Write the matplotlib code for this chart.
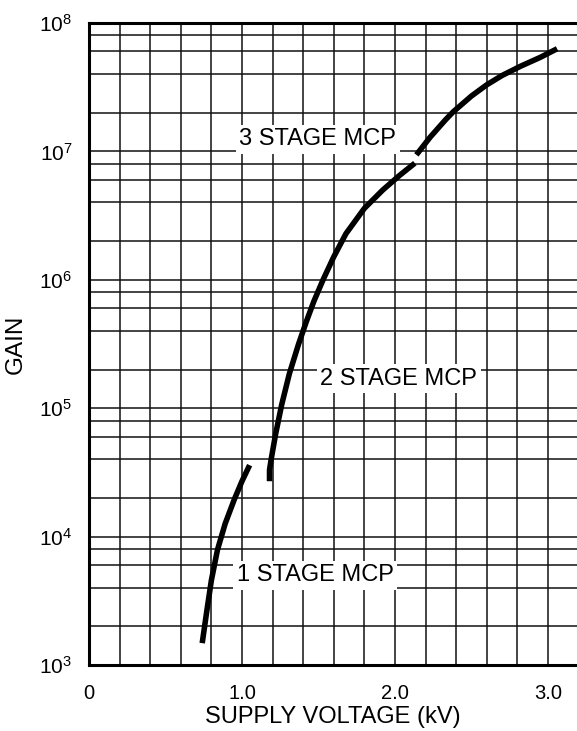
import math
import matplotlib
matplotlib.use("Agg")
import matplotlib.pyplot as plt
from matplotlib.ticker import FixedLocator, MultipleLocator, LogLocator, FuncFormatter, NullFormatter

plt.rcParams['font.family'] = ['Liberation Sans', 'DejaVu Sans']
plt.rcParams['mathtext.fontset'] = 'custom'
plt.rcParams['mathtext.rm'] = 'Liberation Sans'

# gain curves, supply voltage in kV
volts_1stage = [0.74, 0.77, 0.80, 0.84, 0.89, 0.95, 1.00, 1.05]
gain_1stage = [1.48e3, 2.63e3, 4.57e3, 7.9e3, 1.26e4, 1.95e4, 2.7e4, 3.6e4]

volts_2stage = [1.18, 1.18, 1.19, 1.22, 1.26, 1.31, 1.37, 1.42, 1.47, 1.53,
                1.60, 1.68, 1.80, 1.92, 2.03, 2.13]
gain_2stage = [2.7e4, 3.3e4, 3.95e4, 6.3e4, 1.07e5, 1.86e5, 3.16e5, 4.7e5, 6.8e5, 1.0e6,
               1.51e6, 2.29e6, 3.6e6, 5.0e6, 6.5e6, 8.1e6]

volts_3stage = [2.14, 2.23, 2.33, 2.38, 2.50, 2.60, 2.70, 2.82, 2.95, 3.06]
gain_3stage = [9.4e6, 1.29e7, 1.76e7, 2.03e7, 2.7e7, 3.3e7, 3.9e7, 4.6e7, 5.4e7, 6.3e7]

xticks = [0, 1, 2, 3]
xtick_labels = ["0", "1.0", "2.0", "3.0"]

fig = plt.figure(figsize=(5.77, 7.31), dpi=100)
W, H = 577, 731
ax = fig.add_axes([89 / W, (H - 665) / H, (W - 89) / W, (665 - 23) / H])

ax.set_yscale("log")
ax.set_xlim(0, 3.19)
ax.set_ylim(1e3, 1e8)

# graph paper grid
ax.xaxis.set_major_locator(FixedLocator(xticks))
ax.xaxis.set_major_formatter(FuncFormatter(lambda v, p: xtick_labels[xticks.index(int(round(v)))]))
ax.xaxis.set_minor_locator(MultipleLocator(0.2))
ax.yaxis.set_major_locator(LogLocator(base=10, numticks=10))
ax.yaxis.set_major_formatter(FuncFormatter(lambda v, p: r"$\mathregular{10^{%d}}$" % round(math.log10(v))))
ax.yaxis.set_minor_locator(LogLocator(base=10, subs=[2, 4, 6, 8], numticks=20))
ax.yaxis.set_minor_formatter(NullFormatter())
ax.grid(True, which="both", color="#111111", linewidth=1.1)
ax.set_axisbelow(True)

ax.tick_params(which="both", length=0)
ax.tick_params(axis="x", pad=14, labelsize=14.5)
ax.tick_params(axis="y", pad=12, labelsize=15)

for side in ("left", "bottom", "top"):
    ax.spines[side].set_linewidth(2.2)
    ax.spines[side].set_color("#000000")
ax.spines["right"].set_visible(False)

for v, g in ((volts_1stage, gain_1stage), (volts_2stage, gain_2stage), (volts_3stage, gain_3stage)):
    ax.plot(v, g, color="black", linewidth=4.0, solid_capstyle="butt", solid_joinstyle="round", zorder=5)

box = dict(boxstyle="square,pad=0.15", fc="white", ec="none")
ax.text(1.494, 1.12e7, "3 STAGE MCP", fontsize=17, ha="center", va="baseline", bbox=box, zorder=4)
ax.text(2.026, 1.52e5, "2 STAGE MCP", fontsize=17, ha="center", va="baseline", bbox=box, zorder=4)
ax.text(1.480, 4.5e3, "1 STAGE MCP", fontsize=17, ha="center", va="baseline", bbox=box, zorder=4)

ax.set_xlabel("SUPPLY VOLTAGE (kV)", fontsize=17)
ax.set_ylabel("GAIN", fontsize=17.5)
ax.xaxis.set_label_coords(0.5, -0.064)
ax.yaxis.set_label_coords(-0.128, 0.5)

fig.savefig("out.png", dpi=100)
